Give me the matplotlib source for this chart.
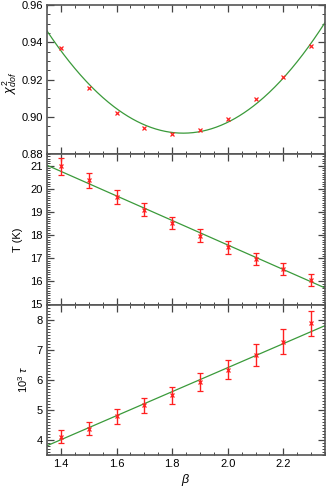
import numpy as np
import matplotlib
matplotlib.use("Agg")
import matplotlib.pyplot as plt
from matplotlib.ticker import MultipleLocator

# ---- data ----
beta = [1.4, 1.5, 1.6, 1.7, 1.8, 1.9, 2.0, 2.1, 2.2, 2.3]
chi2 = [0.937, 0.9153, 0.902, 0.8937, 0.8909, 0.8931, 0.899, 0.9093, 0.9215, 0.9378]
temp = [20.97, 20.36, 19.66, 19.10, 18.53, 17.97, 17.47, 16.97, 16.53, 16.07]
temp_err = [0.36, 0.33, 0.30, 0.29, 0.27, 0.28, 0.27, 0.26, 0.25, 0.26]
tau = [4.11, 4.38, 4.78, 5.15, 5.48, 5.92, 6.34, 6.82, 7.27, 7.87]
tau_err = [0.215, 0.23, 0.25, 0.26, 0.29, 0.31, 0.33, 0.37, 0.40, 0.42]

# fit curves (parameters)
chi2_fit_center = 1.846
chi2_fit_coef = [0.2285, 0.00268, 0.8912]   # quadratic in (beta - center)
temp_fit = [21.0, -5.3]                      # value at 1.353, slope
tau_fit = [3.82, 3.99]                       # value at 1.353, slope
fit_ref = 1.353

xlim = (1.35, 2.35)

plt.rcParams['font.family'] = ['Liberation Sans', 'DejaVu Sans']
plt.rcParams['mathtext.fontset'] = 'custom'
plt.rcParams['mathtext.rm'] = 'Liberation Sans'
plt.rcParams['mathtext.it'] = 'Liberation Sans:italic'

fig = plt.figure(figsize=(3.28, 4.92), dpi=100)
W, H = 328, 492
left, right = 47, 325
tops = [5, 154, 304.5]
bots = [154, 304.5, 455]
axes = []
for t, b in zip(tops, bots):
    ax = fig.add_axes([left / W, 1 - b / H, (right - left) / W, (b - t) / H])
    axes.append(ax)

frame_color = '#555555'
red = '#ff2020'
green = '#3a9a3a'
xs = np.linspace(xlim[0], xlim[1], 300)

def label_x(px):
    # convert a figure pixel x to axes coordinates
    return (px - left) / (right - left)

for ax in axes:
    ax.set_xlim(*xlim)
    for s in ax.spines.values():
        s.set_color(frame_color)
        s.set_linewidth(1.2)
    ax.tick_params(which='both', direction='in', top=True, right=True,
                   color='#444444', labelsize=8, pad=3)
    ax.tick_params(which='major', length=5, width=0.9)
    ax.tick_params(which='minor', length=2.5, width=0.7)
    ax.xaxis.set_major_locator(MultipleLocator(0.2))
    ax.xaxis.set_minor_locator(MultipleLocator(0.05))

# top panel
ax = axes[0]
ax.plot(xs, np.polyval(chi2_fit_coef, xs - chi2_fit_center), color=green, lw=0.9)
ax.plot(beta, chi2, 'x', color=red, ms=3, mew=0.9)
ax.set_ylim(0.88, 0.96)
ax.yaxis.set_major_locator(MultipleLocator(0.02))
ax.yaxis.set_minor_locator(MultipleLocator(0.005))
ax.yaxis.set_major_formatter(matplotlib.ticker.FormatStrFormatter('%.2f'))
ax.set_ylabel(r'$\chi^2_{\mathit{dof}}$', fontsize=9)
ax.yaxis.set_label_coords(label_x(19), 0.48)
ax.tick_params(labelbottom=False)

# middle panel
ax = axes[1]
ax.plot(xs, temp_fit[0] + temp_fit[1] * (xs - fit_ref), color=green, lw=0.9)
ax.errorbar(beta, temp, yerr=temp_err, fmt='x', color=red, ecolor=red,
            ms=3, mew=0.9, elinewidth=1.0, capsize=2, capthick=0.9)
ax.set_ylim(15, 21.5)
ax.yaxis.set_major_locator(MultipleLocator(1))
ax.yaxis.set_minor_locator(MultipleLocator(0.1))
ax.set_ylabel('T (K)', fontsize=8)
ax.yaxis.set_label_coords(label_x(23), 0.43)
ax.tick_params(labelbottom=False)

# bottom panel
ax = axes[2]
ax.plot(xs, tau_fit[0] + tau_fit[1] * (xs - fit_ref), color=green, lw=0.9)
ax.errorbar(beta, tau, yerr=tau_err, fmt='x', color=red, ecolor=red,
            ms=3, mew=0.9, elinewidth=1.0, capsize=2, capthick=0.9)
ax.set_ylim(3.5, 8.5)
ax.yaxis.set_major_locator(MultipleLocator(1))
ax.yaxis.set_minor_locator(MultipleLocator(0.1))
ax.set_ylabel(r'10$^3$ $\tau$', fontsize=8)
ax.yaxis.set_label_coords(label_x(30), 0.5)
ax.set_xlabel(r'$\beta$', fontsize=9, labelpad=2)

fig.savefig('out.png', dpi=100)
